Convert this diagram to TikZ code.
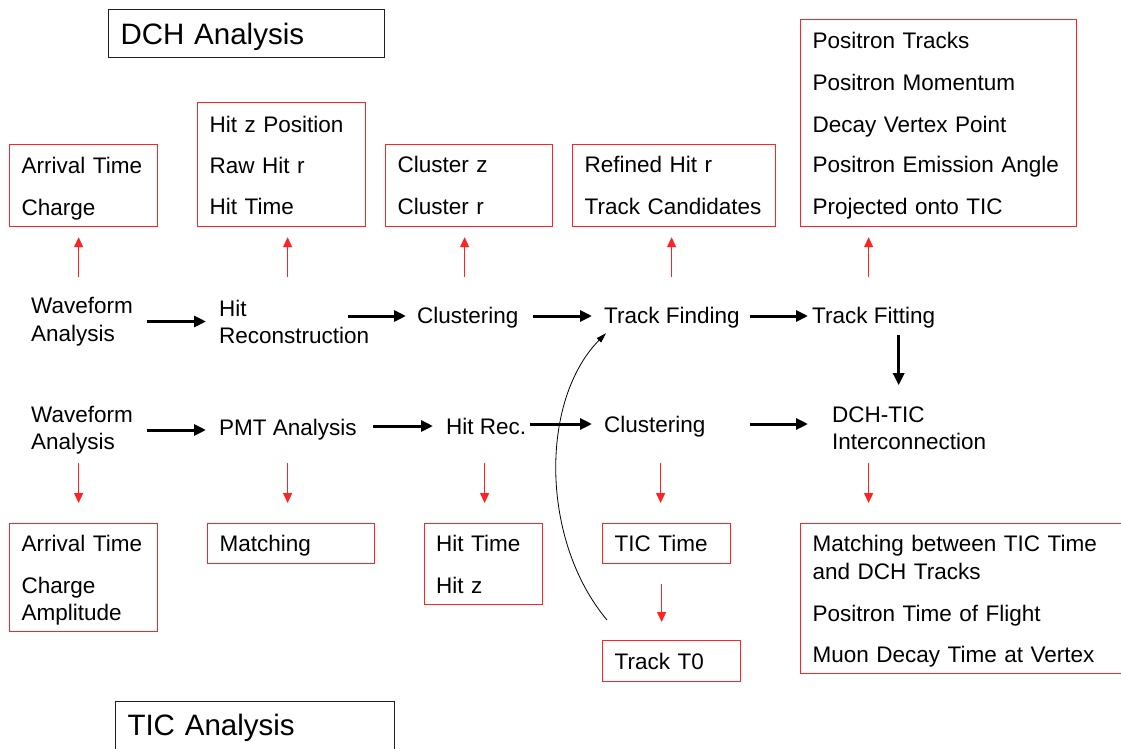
\documentclass[tikz,border=0pt]{standalone}
\usepackage{fontspec}
\setmainfont{Liberation Sans}
\usetikzlibrary{arrows.meta,calc}
\definecolor{lnred}{RGB}{255,35,35}
\definecolor{frame}{RGB}{30,30,30}
% taller first line, so lists ending in a descender sit centred
\newcommand\firstline{\rule{0pt}{21.5pt}}
\begin{document}
\begin{tikzpicture}[x=1pt,y=-1pt,
  lbl/.style={inner sep=0pt, anchor=west, align=left, font=\fontsize{22.5}{27.5}\selectfont},
  rbox/.style={draw=lnred, line width=1.2pt, anchor=north west, align=left,
    inner xsep=12pt, inner ysep=0pt, font=\fontsize{22.5}{28}\selectfont},
  tbox/.style={draw=frame, line width=1pt, anchor=north west, align=left,
    inner xsep=12pt, inner ysep=0pt, font=\fontsize{29.5}{34}\selectfont},
  blk/.style={line width=3pt, -{Triangle[width=11pt,length=12pt]}},
  redarr/.style={draw=lnred, line width=1.3pt, -{Triangle[width=9pt,length=10pt]}},
  thinarr/.style={line width=0.8pt, -{Triangle[width=6pt,length=10pt]}}]
\clip (0,0) rectangle (1121,749);

% section titles
\node[tbox, text width=252pt, text height=34.6pt, text depth=13.4pt] (dch) at (108,9) {DCH Analysis};
\node[tbox, text width=255pt, text height=33.6pt, text depth=30pt] (tic) at (115,701) {TIC Analysis};

% DCH processing chain
\node[lbl] (wf1) at (31,321.5) {Waveform\\Analysis};
\node[lbl] (hitrec) at (219,322) {Hit\\Reconstruction};
\node[lbl] (clus1) at (417,318) {Clustering};
\node[lbl] (tfind) at (604,318) {Track Finding};
\node[lbl] (tfit) at (812,318) {Track Fitting};

% TIC processing chain
\node[lbl] (wf2) at (31,430) {Waveform\\Analysis};
\node[lbl] (pmt) at (219,430) {PMT Analysis};
\node[lbl] (hitr) at (446,426) {Hit Rec.};
\node[lbl] (clus2) at (604,427) {Clustering};
\node[lbl] (dchtic) at (832,428) {DCH-TIC\\Interconnection};

% DCH outputs
\node[rbox, text width=124pt, minimum height=82pt] (b1) at (9,144) {\firstline Arrival Time\\[14pt]Charge};
\node[rbox, text width=144pt, minimum height=124pt] (b2) at (197,102) {\rule{0pt}{19pt}Hit z Position\\[13pt]Raw Hit r\\[13pt]Hit Time};
\node[rbox, text width=143pt, minimum height=82pt] (b3) at (385,144) {Cluster z\\[14pt]Cluster r};
\node[rbox, text width=179pt, minimum height=82pt] (b4) at (572,144) {Refined Hit r\\[14pt]Track Candidates};
\node[rbox, text width=252pt, minimum height=207pt] (b5) at (800,19) {\firstline Positron Tracks\\[14pt]Positron Momentum\\[14pt]Decay Vertex Point\\[12pt]Positron Emission Angle\\[14pt]Projected onto TIC};

% TIC outputs
\node[rbox, text width=124pt, minimum height=108pt] (d1) at (9,523) {\firstline Arrival Time\\[14pt]Charge\\[-1pt]Amplitude};
\node[rbox, text width=143pt, minimum height=40pt] (d2) at (207,523) {\rule{0pt}{19.5pt}Matching};
\node[rbox, text width=95pt, minimum height=81pt, inner xsep=11.5pt] (d3) at (424,523) {Hit Time\\[14pt]Hit z};
\node[rbox, text width=104pt, minimum height=40pt] (d4) at (602,523) {TIC Time};
\node[rbox, text width=114pt, minimum height=41pt] (d5) at (602,640) {Track T0};
\node[rbox, text width=306pt, minimum height=150pt] (d6) at (800,523) {\firstline Matching between TIC Time\\and DCH Tracks\\[14pt]Positron Time of Flight\\[13pt]Muon Decay Time at Vertex};

% DCH chain arrows
\draw[blk, shorten <=13.5pt, shorten >=13pt] (wf1.east) -- (wf1.east -| hitrec.west);
\draw[blk, shorten >=11pt] ($(hitrec.east |- clus1.west)+(-21,-2)$) -- ($(clus1.west)+(0,-2)$);
\draw[blk, shorten <=14.7pt, shorten >=12pt] ($(clus1.east)+(0,-2)$) -- ($(clus1.east -| tfind.west)+(0,-2)$);
\draw[blk, shorten <=9.7pt, shorten >=4pt] ($(tfind.east)+(0,-2)$) -- ($(tfind.east -| tfit.west)+(0,-2)$);
\draw[blk, shorten <=6.5pt, shorten >=21pt] ($(tfit.south)+(25,0)$) -- ($(tfit.south)+(25,77.5)$);

% TIC chain arrows
\draw[blk, shorten <=13.5pt, shorten >=13pt] (wf2.east) -- (wf2.east -| pmt.west);
\draw[blk, shorten <=16.5pt, shorten >=13pt] (pmt.east |- hitr.west) -- (hitr.west);
\draw[blk, shorten <=4pt, shorten >=12pt] ($(hitr.east)+(0,-2)$) -- ($(hitr.east -| clus2.west)+(0,-2)$);
\draw[blk, shorten <=44.7pt, shorten >=24pt] ($(clus2.east)+(0,-3)$) -- ($(clus2.east -| dchtic.west)+(0,-3)$);

% DCH result arrows
\draw[redarr] ($(b1.south)+(-5,50)$) -- ($(b1.south)+(-5,10)$);
\draw[redarr] ($(b2.south)+(6,50)$) -- ($(b2.south)+(6,10)$);
\draw[redarr] ($(b3.south)+(-4.5,50)$) -- ($(b3.south)+(-4.5,10)$);
\draw[redarr] ($(b4.south)+(-2.5,50)$) -- ($(b4.south)+(-2.5,10)$);
\draw[redarr] ($(b5.south)+(-70,50)$) -- ($(b5.south)+(-70,10)$);

% TIC result arrows
\draw[redarr] ($(d1.north)+(-5,-60)$) -- ($(d1.north)+(-5,-20)$);
\draw[redarr] ($(d2.north)+(-3.5,-60)$) -- ($(d2.north)+(-3.5,-20)$);
\draw[redarr] ($(d3.north)+(1,-60)$) -- ($(d3.north)+(1,-20)$);
\draw[redarr] ($(d4.north)+(-6,-60)$) -- ($(d4.north)+(-6,-20)$);
\draw[redarr] ($(d6.north)+(-97,-60)$) -- ($(d6.north)+(-97,-20)$);
\draw[redarr] ($(d4.south)+(-5,20)$) -- ($(d5.north)+(-10,-18)$);

% T0 fed back to track finding
\draw[thinarr] ($(d5.north west)+(5,-20)$) .. controls (540,540) and (540,400) .. ($(tfind.south west)+(2,4.5)$);
\end{tikzpicture}
\end{document}
